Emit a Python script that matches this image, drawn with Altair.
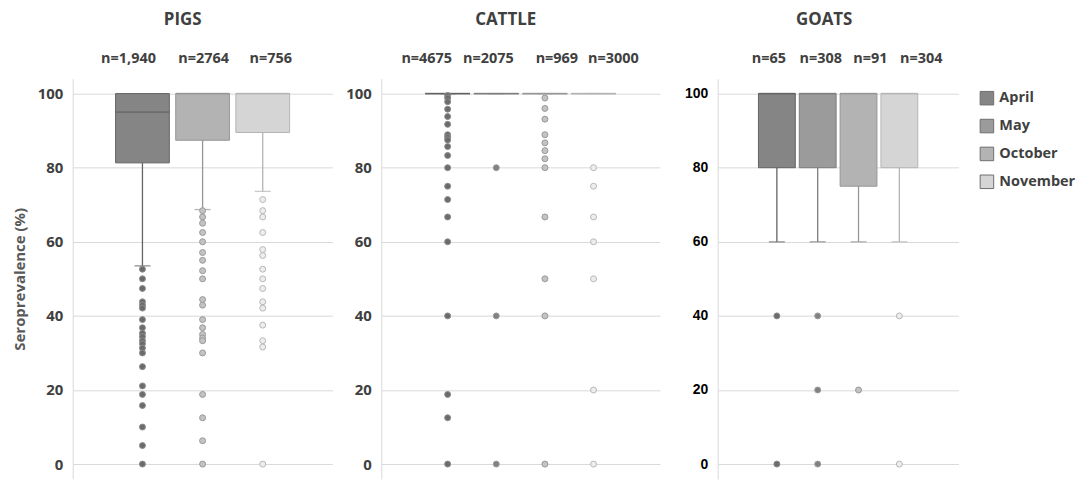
import altair as alt
import pandas as pd

FONT = "Open Sans"

months = ["April", "May", "October", "November"]
box_fill = ["#858585", "#9b9b9b", "#b3b3b3", "#d5d5d5"]
line_col = ["#636363", "#7d7d7d", "#969696", "#b4b4b4"]
pt_fill = ["#6b6b6b", "#818181", "#c3c3c3", "#ededed"]
pt_stroke = ["#8c8c8c", "#9c9c9c", "#989898", "#b6b6b6"]

# ---------------- PIGS ----------------
pig_months = ["April", "October", "November"]
pig_n = ["n=1,940", "n=2764", "n=756"]
pig_n_shift = [-14, 1, 8]
pig_q1 = [81.3, 87.4, 89.5]
pig_median = [95.0, 100.0, 100.0]
pig_q3 = [100.0, 100.0, 100.0]
pig_low = [53.5, 68.7, 73.6]
pig_out_april = [52.6, 50.0, 47.4, 43.8, 42.9, 42.1, 39.0, 36.8, 35.3, 34.4, 33.3,
                 32.5, 31.3, 30.0, 26.3, 21.1, 18.8, 15.8, 10.0, 5.0, 0.0]
pig_out_october = [68.4, 66.7, 65.0, 62.5, 60.0, 57.1, 55.0, 52.2, 50.0, 44.4, 42.9,
                   39.0, 36.8, 35.0, 34.0, 33.3, 30.0, 18.8, 12.5, 6.3, 0.0]
pig_out_november = [71.4, 68.4, 66.7, 62.5, 57.9, 56.3, 52.6, 50.0, 47.4, 43.8, 42.1,
                    37.5, 33.3, 31.6, 0.0]

# ---------------- CATTLE ----------------
cattle_months = ["April", "May", "October", "November"]
cattle_n = ["n=4675", "n=2075", "n=969", "n=3000"]
cattle_n_shift = [-21, -8, 12, 20]
cattle_q1 = [100.0, 100.0, 100.0, 100.0]
cattle_median = [100.0, 100.0, 100.0, 100.0]
cattle_q3 = [100.0, 100.0, 100.0, 100.0]
cattle_low = [100.0, 100.0, 100.0, 100.0]
cattle_out_april = [99.5, 98.8, 97.8, 95.8, 93.8, 91.7, 88.9, 88.2, 87.5, 85.7, 83.3,
                    80.0, 75.0, 71.4, 66.7, 60.0, 40.0, 18.8, 12.5, 0.0]
cattle_out_may = [80.0, 40.0, 0.0]
cattle_out_october = [98.8, 96.0, 93.1, 88.9, 86.7, 84.6, 82.4, 80.0, 66.7, 50.0, 40.0, 0.0]
cattle_out_november = [80.0, 75.0, 66.7, 60.0, 50.0, 20.0, 0.0]

# ---------------- GOATS ----------------
goat_months = ["April", "May", "October", "November"]
goat_n = ["n=65", "n=308", "n=91", "n=304"]
goat_n_shift = [-8, 3, 12, 22]
goat_q1 = [80.0, 80.0, 75.0, 80.0]
goat_median = [100.0, 100.0, 100.0, 100.0]
goat_q3 = [100.0, 100.0, 100.0, 100.0]
goat_low = [60.0, 60.0, 60.0, 60.0]
goat_out_april = [40.0, 0.0]
goat_out_may = [40.0, 20.0, 0.0]
goat_out_october = [20.0]
goat_out_november = [40.0, 0.0]

y_ticks = [0, 20, 40, 60, 80, 100]
y_domain = [-4, 104]


def style(m, arr):
    return arr[months.index(m)]


def panel(mo, ns, nshift, q1, med, q3, low, outs, width, p_in, p_out, band,
          y_title, label_color, label_font, label_size, title, tdx, legend=False):
    box = pd.DataFrame({
        "month": mo, "q1": q1, "median": med, "q3": q3, "low": low,
        "fill": [style(m, box_fill) for m in mo],
        "line": [style(m, line_col) for m in mo],
    })
    rows = []
    for m, vals in zip(mo, outs):
        for v in vals:
            rows.append({"month": m, "value": v,
                         "pf": style(m, pt_fill), "ps": style(m, pt_stroke)})
    pts = pd.DataFrame(rows)

    expr = "''"
    for m, lab in reversed(list(zip(mo, ns))):
        expr = f"datum.value == '{m}' ? '{lab}' : {expr}"
    offset_cond = {
        "condition": [{"test": f"datum.value == '{m}'", "value": s}
                      for m, s in zip(mo, nshift)],
        "value": 0,
    }

    xenc = alt.X("month:N",
                 scale=alt.Scale(domain=mo, paddingInner=p_in, paddingOuter=p_out),
                 axis=alt.Axis(orient="top", title=None, domain=False, ticks=False,
                               labelAngle=0, labelExpr=expr, labelFont=FONT,
                               labelFontSize=14.5, labelFontWeight="bold",
                               labelColor="#404040", labelPadding=13,
                               labelOffset=offset_cond))
    yscale = alt.Scale(domain=y_domain, nice=False, zero=False)
    axis_kw = dict(values=y_ticks, grid=True, gridColor="#d9d9d9",
                   domainColor="#d9d9d9", ticks=False, labelFont=label_font,
                   labelFontSize=label_size, labelFontWeight="bold",
                   labelColor=label_color, labelPadding=10)
    if y_title:
        axis_kw.update(title=y_title, titleFont=FONT, titleFontSize=15,
                       titleFontWeight="bold", titleColor="#595959", titlePadding=10)
    else:
        axis_kw.update(title="")
    yaxis = alt.Axis(**axis_kw)

    if legend:
        fill_enc = alt.Fill("month:N",
                            scale=alt.Scale(domain=months, range=box_fill),
                            legend=alt.Legend(title=None, orient="none",
                                              legendX=911, legendY=12,
                                              symbolType="square", symbolSize=185,
                                              symbolStrokeColor="#6e6e6e",
                                              symbolStrokeWidth=1,
                                              labelFont=FONT, labelFontSize=14.5,
                                              labelFontWeight="bold",
                                              labelColor="#404040",
                                              rowPadding=9, labelOffset=5))
    else:
        fill_enc = alt.Fill("fill:N", scale=None)

    base = alt.Chart(box)
    bars = base.mark_bar(size=band, strokeWidth=1).encode(
        x=xenc,
        y=alt.Y("q1:Q", scale=yscale, axis=yaxis),
        y2="q3:Q",
        fill=fill_enc,
        stroke=alt.Stroke("line:N", scale=None),
    )
    whisk = base.mark_rule(strokeWidth=1.3).encode(
        x=xenc, y=alt.Y("low:Q", scale=yscale, axis=yaxis), y2="q1:Q",
        stroke=alt.Stroke("line:N", scale=None))
    cap = base.mark_tick(size=16, thickness=1.3).encode(
        x=xenc, y=alt.Y("low:Q", scale=yscale, axis=yaxis),
        color=alt.Color("line:N", scale=None))
    medl = base.mark_tick(size=band, thickness=1.8).encode(
        x=xenc, y=alt.Y("median:Q", scale=yscale, axis=yaxis),
        color=alt.Color("line:N", scale=None))
    dots = alt.Chart(pts).mark_circle(size=36, strokeWidth=1, opacity=1).encode(
        x=xenc, y=alt.Y("value:Q", scale=yscale, axis=yaxis),
        fill=alt.Fill("pf:N", scale=None), stroke=alt.Stroke("ps:N", scale=None))

    return alt.layer(bars, whisk, cap, medl, dots).properties(
        width=width, height=402,
        title=alt.TitleParams(text=title, font=FONT, fontSize=17, fontWeight="bold",
                              color="#404040", offset=22, dx=tdx, anchor="middle"))


pigs = panel(pig_months, pig_n, pig_n_shift, pig_q1, pig_median, pig_q3, pig_low,
             [pig_out_april, pig_out_october, pig_out_november],
             261, 0.1, 0.71, 54, "Seroprevalence (%)", "#404040", FONT, 15, "PIGS", -20)
cattle = panel(cattle_months, cattle_n, cattle_n_shift, cattle_q1, cattle_median,
               cattle_q3, cattle_low,
               [cattle_out_april, cattle_out_may, cattle_out_october, cattle_out_november],
               280, 0.08, 0.905, 45, None, "#404040", FONT, 15, "CATTLE", -15)
goats = panel(goat_months, goat_n, goat_n_shift, goat_q1, goat_median, goat_q3, goat_low,
              [goat_out_april, goat_out_may, goat_out_october, goat_out_november],
              242, 0.1, 1.0, 37, None, "#000000", "Liberation Sans", 14, "GOATS", -14,
              legend=True)

left = alt.hconcat(pigs, cattle, spacing=13)
chart = alt.hconcat(left, goats, spacing=24).properties(
    padding={"left": 4, "top": 2, "right": 0, "bottom": 0}
).configure_view(stroke=None)

chart.save("out.html", embed_options={"renderer": "svg", "actions": False})
